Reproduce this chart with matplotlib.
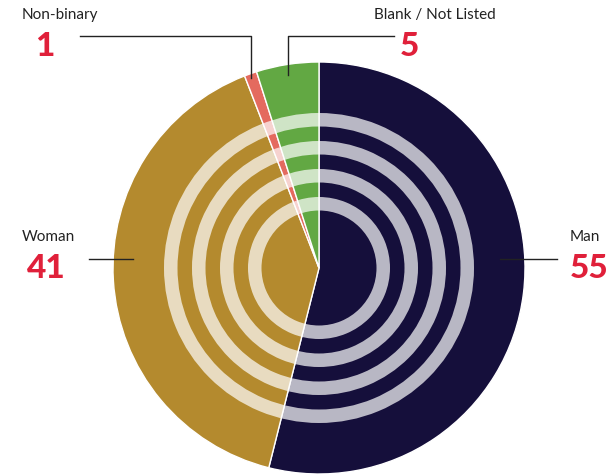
import matplotlib
matplotlib.use("Agg")
import matplotlib.pyplot as plt
from matplotlib.patches import Wedge

categories = ["Man", "Woman", "Non-binary", "Blank / Not Listed"]
values = [55, 41, 1, 5]
colors = ["#150f3b", "#b48a2e", "#e46a5f", "#62a843"]

W, H = 613, 476
fig = plt.figure(figsize=(W / 100, H / 100), dpi=100)
ax = fig.add_axes([0, 0, 1, 1])

cx, cy = 319, H - 268
R = 206
ax.pie(values, colors=colors, startangle=90, counterclock=False,
       center=(cx, cy), radius=R, frame=True,
       wedgeprops=dict(edgecolor="white", linewidth=1.0))
ax.set_xlim(0, W)
ax.set_ylim(0, H)
ax.set_aspect("equal")
ax.axis("off")

for r_out in [155, 127, 99, 71]:
    ax.add_patch(Wedge((cx, cy), r_out, 0, 360, width=13.5,
                       facecolor="white", edgecolor="none", alpha=0.7, zorder=5))

fam = ["Lato", "DejaVu Sans"]
red = "#e0203a"
line_kw = dict(color="#222222", linewidth=1.0, zorder=6)

# Non-binary
ax.text(60, H - 15, "Non-binary", ha="center", va="center", fontsize=11, family=fam, color="#222222")
ax.text(45, H - 46, str(values[2]), ha="center", va="center", fontsize=24, family=fam,
        fontweight="black", color=red)
ax.plot([80, 251, 251], [H - 36, H - 36, H - 78], **line_kw)

# Blank / Not Listed
ax.text(435, H - 15, "Blank / Not Listed", ha="center", va="center", fontsize=11, family=fam, color="#222222")
ax.text(409, H - 46, str(values[3]), ha="center", va="center", fontsize=24, family=fam,
        fontweight="black", color=red)
ax.plot([394, 288, 288], [H - 36, H - 36, H - 75], **line_kw)

# Woman
ax.text(48, H - 237, "Woman", ha="center", va="center", fontsize=11, family=fam, color="#222222")
ax.text(46, H - 268, str(values[1]), ha="center", va="center", fontsize=24, family=fam,
        fontweight="black", color=red)
ax.plot([89, 133], [H - 259, H - 259], **line_kw)

# Man
ax.text(585, H - 237, "Man", ha="center", va="center", fontsize=11, family=fam, color="#222222")
ax.text(589, H - 268, str(values[0]), ha="center", va="center", fontsize=24, family=fam,
        fontweight="black", color=red)
ax.plot([500, 557], [H - 259, H - 259], **line_kw)

fig.savefig("out.png", dpi=100)
